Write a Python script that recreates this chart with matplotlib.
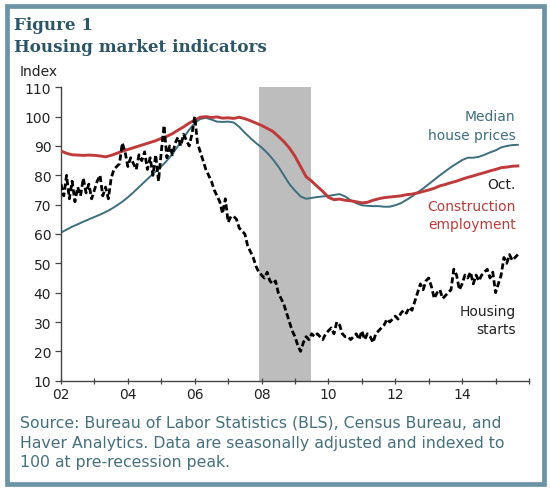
import matplotlib
matplotlib.use("Agg")
import matplotlib.pyplot as plt
from matplotlib.patches import Rectangle
import numpy as np

# ---------------- data ----------------
# Housing starts, monthly Jan 2002 .. Sep 2015 (index, pre-recession peak = 100)
housing_starts = [
    77, 73, 80, 72, 78, 71, 76, 73, 79, 74, 77, 72,   # 2002
    75, 78, 80, 73, 76, 72, 79, 82, 83, 84, 91, 88,   # 2003
    83, 86, 84, 82, 87, 85, 88, 82, 86, 80, 87, 78,   # 2004
    88, 97, 86, 90, 87, 91, 93, 90, 94, 92, 90, 94,   # 2005
    100, 91, 88, 85, 82, 80, 78, 75, 73, 71, 67, 72,  # 2006
    64, 66, 66, 65, 62, 61, 60, 56, 54, 52, 49, 47,   # 2007
    46, 45, 47, 44, 43, 44, 40, 38, 36, 33, 30, 27,   # 2008
    25, 22, 20, 23, 25, 24, 26, 25, 26, 25, 24, 26,   # 2009
    27, 28, 26, 30, 29, 26, 25, 25, 24, 25, 26, 24,   # 2010
    27, 24, 26, 25, 23, 26, 27, 28, 29, 31, 30, 31,   # 2011
    32, 31, 33, 34, 33, 35, 34, 37, 40, 43, 41, 44,   # 2012
    45, 42, 38, 40, 41, 38, 39, 40, 41, 48, 46, 41,   # 2013
    43, 46, 45, 47, 43, 46, 44, 46, 47, 48, 45, 47,   # 2014
    40, 43, 46, 52, 50, 53, 51, 52, 53,               # 2015
]

# Median house prices, every two months Jan 2002 .. Sep 2015
house_prices = [
    60.5, 61.5, 62.5, 63.3, 64.2, 65.0,
    65.8, 66.6, 67.5, 68.5, 69.7, 71.0,
    72.5, 74.2, 76.0, 77.8, 79.6, 81.3,
    83.0, 85.0, 87.3, 90.0, 92.8, 95.5,
    97.8, 99.2, 99.6, 99.0, 98.3, 98.2,
    98.3, 98.0, 96.5, 94.5, 92.7, 91.0,
    89.5, 87.7, 85.5, 83.0, 80.0, 77.0,
    74.8, 72.8, 72.0, 72.3, 72.6, 72.8,
    73.0, 73.3, 73.6, 72.8, 71.5, 70.5,
    69.8, 69.6, 69.5, 69.5, 69.3, 69.3,
    69.8, 70.5, 71.6, 72.8, 74.2, 75.5,
    77.0, 78.5, 80.0, 81.4, 82.8, 84.0,
    85.2, 86.0, 86.0, 86.3, 87.0, 87.8,
    88.5, 89.5, 90.0, 90.3, 90.4,
]

# Construction employment, every two months Jan 2002 .. Sep 2015
construction_emp = [
    88.3, 87.5, 87.0, 86.9, 86.8, 86.9,
    86.8, 86.6, 86.3, 86.8, 87.5, 88.2,
    88.8, 89.4, 90.0, 90.6, 91.2, 91.8,
    92.6, 93.3, 94.2, 95.4, 96.5, 97.8,
    98.8, 99.8, 100.0, 99.7, 99.9, 99.5,
    99.6, 99.4, 99.8, 99.3, 98.6, 97.8,
    97.0, 96.0, 95.0, 93.3, 91.5, 89.3,
    86.5, 83.0, 79.5, 78.0, 76.2, 74.5,
    72.5, 71.7, 71.9, 71.5, 71.3, 71.0,
    70.6, 70.8, 71.5, 72.0, 72.4, 72.6,
    72.8, 73.0, 73.4, 73.6, 74.0, 74.5,
    75.0, 75.6, 76.4, 76.9, 77.5, 78.0,
    78.7, 79.3, 79.8, 80.4, 80.9, 81.5,
    82.0, 82.6, 82.8, 83.1, 83.2,
]

start_year = 2002
recession = (2007.93, 2009.48)
x_ticks = list(range(2002, 2017))
x_tick_labels = ["02", "", "04", "", "06", "", "08", "", "10", "", "12", "", "14", "", ""]
y_ticks = list(range(10, 111, 10))

# ---------------- style ----------------
TEAL = "#3d6e7e"
RED = "#bf3b3b"
TITLE = "#2c5667"
BORDER = "#6b95a7"
SRC = "#45707d"

x_monthly = start_year + np.arange(len(housing_starts)) / 12.0
x_bimonthly = start_year + np.arange(len(house_prices)) * 2 / 12.0

fig = plt.figure(figsize=(5.5, 4.89), dpi=100)
fig.patch.set_facecolor("white")

# border
fig.patches.append(Rectangle((7 / 550, 4 / 489), 537 / 550, 478 / 489,
                             transform=fig.transFigure, fill=False,
                             edgecolor=BORDER, linewidth=3.4, zorder=0))

ax = fig.add_axes([61 / 550, 1 - 381.7 / 489, (529 - 61) / 550, (381.7 - 88.3) / 489])

ax.axvspan(recession[0], recession[1], color="#bdbdbd", lw=0, zorder=0)

ax.plot(x_bimonthly, construction_emp, color=RED, lw=2.1, zorder=3)
ax.plot(x_bimonthly, house_prices, color=TEAL, lw=1.4, zorder=2)
ax.plot(x_monthly, housing_starts, color="black", lw=2.0, ls=(0, (2.2, 1.1)), zorder=4)

ax.set_xlim(2002, 2016)
ax.set_ylim(10, 110)
ax.set_xticks(x_ticks)
ax.set_xticklabels(x_tick_labels)
ax.set_yticks(y_ticks)
for s in ["top", "right"]:
    ax.spines[s].set_visible(False)
for s in ["left", "bottom"]:
    ax.spines[s].set_color("#444444")
    ax.spines[s].set_linewidth(1.0)
ax.tick_params(axis="x", direction="inout", length=5, width=0.9, color="#444444",
               labelsize=10, pad=2, labelcolor="#222222")
ax.tick_params(axis="y", direction="out", length=4, width=0.9, color="#444444",
               labelsize=10, pad=3, labelcolor="#222222")
ax.set_facecolor("none")

# titles
fig.text(14 / 550, 1 - 26 / 489, "Figure 1", family="DejaVu Serif", weight="bold",
         fontsize=12.1, color=TITLE, va="center", ha="left")
fig.text(14 / 550, 1 - 48 / 489, "Housing market indicators", family="DejaVu Serif",
         weight="bold", fontsize=12.1, color=TITLE, va="center", ha="left")
fig.text(20 / 550, 1 - 72 / 489, "Index", fontsize=10, color="#222222",
         va="center", ha="left")

# series labels (data coords)
def lab(x, y, s, c):
    ax.text(x, y, s, color=c, fontsize=10, ha="right", va="center")

lab(2015.6, 100.3, "Median", TEAL)
lab(2015.6, 93.8, "house prices", TEAL)
lab(2015.6, 77.0, "Oct.", "#222222")
lab(2015.6, 69.6, "Construction", RED)
lab(2015.6, 63.4, "employment", RED)
lab(2015.6, 33.8, "Housing", "#222222")
lab(2015.6, 27.6, "starts", "#222222")

src = ("Source: Bureau of Labor Statistics (BLS), Census Bureau, and\n"
       "Haver Analytics. Data are seasonally adjusted and indexed to\n"
       "100 at pre-recession peak.")
fig.text(20 / 550, 1 - 416 / 489, src, fontsize=11.3, color=SRC, va="top", ha="left",
         linespacing=1.38)

fig.savefig("out.png", dpi=100, facecolor="white")
